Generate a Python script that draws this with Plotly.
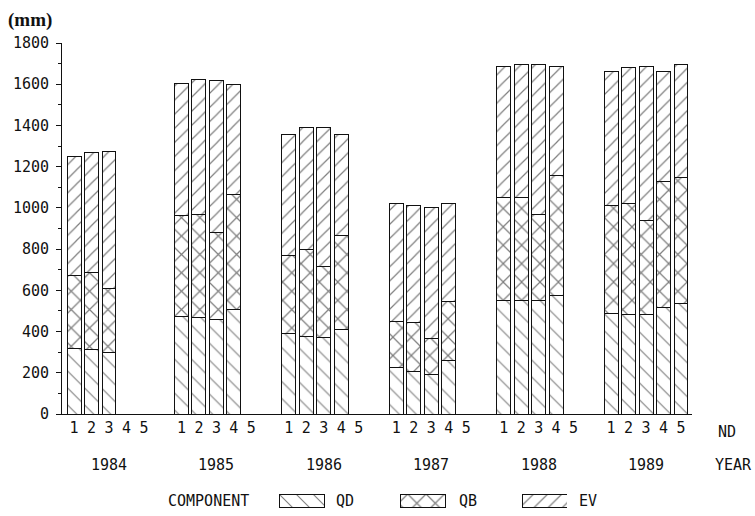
import plotly.graph_objects as go

years = ["1984", "1985", "1986", "1987", "1988", "1989"]
nd_labels = ["1", "2", "3", "4", "5"]
components = ["QD", "QB", "EV"]

# cumulative readings per year, slots ND 1..5 (None = no bar)
qd_top = [
    [320, 314, 299, None, None],
    [475, 469, 459, 508, None],
    [391, 375, 370, 408, None],
    [227, 205, 193, 262, None],
    [553, 553, 553, 576, None],
    [489, 485, 485, 518, 537],
]
qb_top = [
    [670, 686, 610, None, None],
    [962, 969, 880, 1067, None],
    [767, 796, 715, 865, None],
    [448, 443, 364, 545, None],
    [1051, 1051, 970, 1155, None],
    [1011, 1022, 941, 1127, 1148],
]
total = [
    [1248, 1268, 1273, None, None],
    [1604, 1621, 1616, 1601, None],
    [1354, 1389, 1389, 1354, None],
    [1022, 1014, 1003, 1022, None],
    [1685, 1695, 1695, 1685, None],
    [1661, 1682, 1688, 1664, 1695],
]

GROUP = 6.15
xs, qd, qb, ev, ticktext = [], [], [], [], []
for g in range(len(years)):
    for k in range(5):
        xs.append(g * GROUP + k)
        ticktext.append(nd_labels[k])
        a, b, c = qd_top[g][k], qb_top[g][k], total[g][k]
        if a is None:
            qd.append(None); qb.append(None); ev.append(None)
        else:
            qd.append(a); qb.append(b - a); ev.append(c - b)

FONT = "DejaVu Sans Mono"
INK = "#111111"
patterns = {"QD": dict(shape="\\", size=12, solidity=0.09),
            "QB": dict(shape="x", size=13, solidity=0.18),
            "EV": dict(shape="/", size=10, solidity=0.12)}
values = {"QD": qd, "QB": qb, "EV": ev}

fig = go.Figure()
for comp in components:
    p = patterns[comp]
    fig.add_trace(go.Bar(
        x=xs, y=values[comp], width=0.8, name=comp, showlegend=False,
        marker=dict(color="white", line=dict(color=INK, width=1),
                    pattern=dict(shape=p["shape"], size=p["size"], solidity=p["solidity"],
                                 fgcolor="black", bgcolor="white", fillmode="overlay")),
        xaxis="x", yaxis="y"))

# legend swatches
leg_x = [0, 2.7, 5.4]
for i, comp in enumerate(components):
    p = patterns[comp]
    fig.add_trace(go.Bar(
        x=[leg_x[i]], y=[1], width=1, showlegend=False, hoverinfo="skip",
        cliponaxis=False,
        marker=dict(color="white", line=dict(color=INK, width=1),
                    pattern=dict(shape=p["shape"], size=p["size"], solidity=p["solidity"],
                                 fgcolor="black", bgcolor="white", fillmode="overlay")),
        xaxis="x2", yaxis="y2"))

L, R, T, B = 62, 63, 43, 6
W, H = 755, 516
PW = W - L - R
PH = H - T - B
BOTTOM = H - B
def px(x):
    return (x - L) / PW
def py(y):
    return (BOTTOM - y) / PH

fig.update_layout(
    width=W, height=H, template="plotly_white",
    plot_bgcolor="white", paper_bgcolor="white",
    margin=dict(l=L, r=R, t=T, b=B, autoexpand=False),
    barmode="stack",
    font=dict(family=FONT, size=15, color=INK),
    xaxis=dict(range=[-0.69, 35.38], tickvals=xs, ticktext=ticktext, showgrid=False,
               zeroline=False, showline=True, linecolor=INK, linewidth=1, ticks="",
               automargin=False,
               tickfont=dict(family=FONT, size=15, color=INK), anchor="y", fixedrange=True),
    yaxis=dict(domain=[py(414), 1], range=[0, 1800], tickvals=list(range(0, 1801, 200)),
               showgrid=False, zeroline=False, showline=True, linecolor=INK, linewidth=1,
               ticks="outside", ticklen=5, tickcolor=INK, tickwidth=1, ticklabelstandoff=4,
               automargin=False,
               minor=dict(dtick=100, ticks="outside", ticklen=3, tickcolor=INK, showgrid=False),
               tickfont=dict(family=FONT, size=15, color=INK), anchor="x"),
    xaxis2=dict(domain=[px(279), px(567)], range=[-0.5, 5.9], visible=False, anchor="y2",
                automargin=False),
    yaxis2=dict(domain=[py(508), py(494)], range=[-0.08, 1.08], visible=False, anchor="x2",
                automargin=False),
)

ann = []
for g, yr in enumerate(years):
    ann.append(dict(x=g * GROUP + 2, y=py(465), xref="x", yref="paper", text=yr,
                    showarrow=False, xanchor="center", yanchor="middle"))
ann.append(dict(x=px(727), y=py(432), xref="paper", yref="paper", text="ND",
                showarrow=False, xanchor="center", yanchor="middle"))
ann.append(dict(x=px(754), y=py(465), xref="paper", yref="paper", text="YEAR",
                showarrow=False, xanchor="right", yanchor="middle"))
ann.append(dict(x=px(251), y=py(501), xref="paper", yref="paper", text="COMPONENT",
                showarrow=False, xanchor="right", yanchor="middle"))
for comp, lx in zip(components, [334, 457, 577]):
    ann.append(dict(x=px(lx), y=py(501), xref="paper", yref="paper", text=comp,
                    showarrow=False, xanchor="left", yanchor="middle"))
ann.append(dict(x=px(6), y=py(20), xref="paper", yref="paper", text="<b>(mm)</b>",
                showarrow=False, xanchor="left", yanchor="middle",
                font=dict(family="Liberation Serif", size=19, color=INK)))
fig.update_layout(annotations=ann)

fig.write_html("out.html", config={"displayModeBar": False},
               post_script="document.body.style.margin='0';")
